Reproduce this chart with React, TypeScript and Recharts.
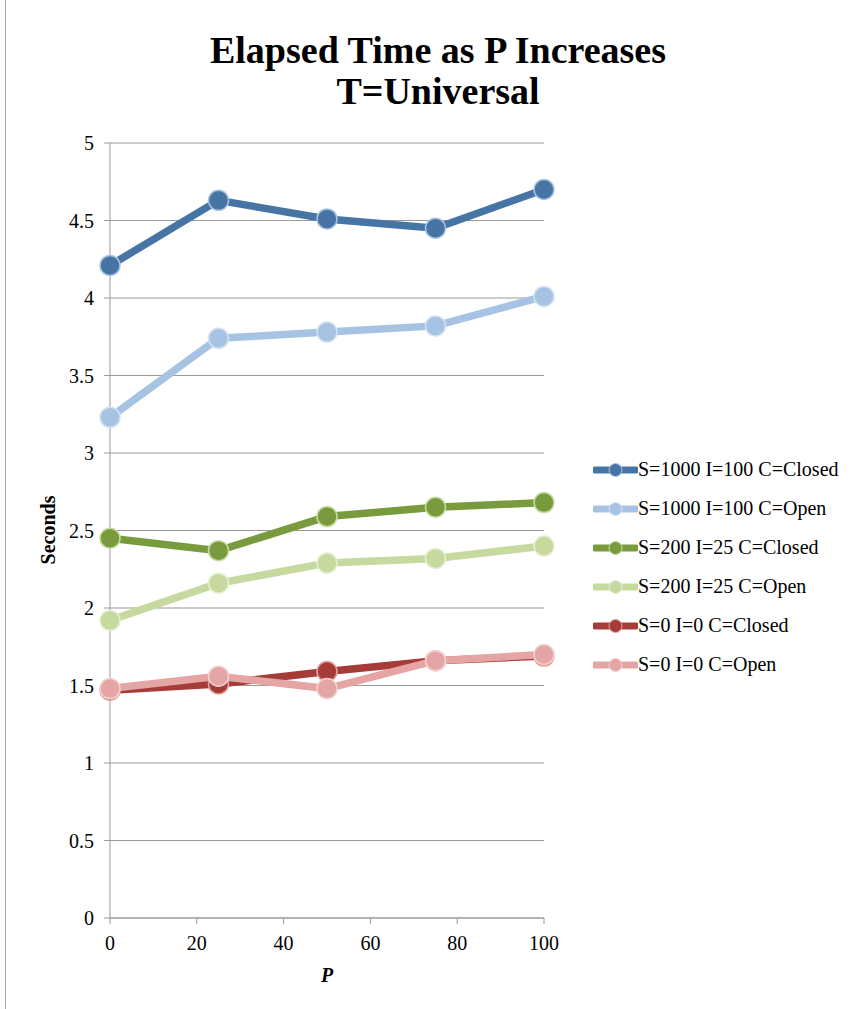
import { LineChart, Line, XAxis, YAxis, CartesianGrid } from 'recharts';

const pValues = [0, 25, 50, 75, 100];
const closed1000 = [4.21, 4.63, 4.51, 4.45, 4.7];
const open1000 = [3.23, 3.74, 3.78, 3.82, 4.01];
const closed200 = [2.45, 2.37, 2.59, 2.65, 2.68];
const open200 = [1.92, 2.16, 2.29, 2.32, 2.4];
const closed0 = [1.47, 1.51, 1.59, 1.66, 1.69];
const open0 = [1.48, 1.56, 1.48, 1.66, 1.7];

const xTicks = [0, 20, 40, 60, 80, 100];
const yTicks = [0, 0.5, 1, 1.5, 2, 2.5, 3, 3.5, 4, 4.5, 5];

const series = [
    { key: 'c1000', name: 'S=1000 I=100 C=Closed', values: closed1000, color: '#4674a5', rim: '#a9c3e0' },
    { key: 'o1000', name: 'S=1000 I=100 C=Open', values: open1000, color: '#a7c3e3', rim: '#d3e2f3' },
    { key: 'c200', name: 'S=200 I=25 C=Closed', values: closed200, color: '#7a9b3d', rim: '#c8dca4' },
    { key: 'o200', name: 'S=200 I=25 C=Open', values: open200, color: '#c6da9f', rim: '#e6f0d2' },
    { key: 'c0', name: 'S=0 I=0 C=Closed', values: closed0, color: '#a63c38', rim: '#e0a4a2' },
    { key: 'o0', name: 'S=0 I=0 C=Open', values: open0, color: '#e4a5a4', rim: '#f4d2d1' },
];

const data = pValues.map((p, i) => {
    const row: any = { p };
    series.forEach(s => { row[s.key] = s.values[i]; });
    return row;
});

const FONT = '"Liberation Serif", "DejaVu Serif", serif';

function LegendBox() {
    return (
        <div style={{ position: 'absolute', left: 593, top: 450, fontFamily: FONT, fontSize: 20, color: '#000' }}>
            {series.map(s => (
                <div key={s.key} style={{ display: 'flex', alignItems: 'center', height: 39 }}>
                    <svg width={45} height={16}>
                        <line x1={2} y1={8} x2={43} y2={8} stroke={s.color} strokeWidth={7} strokeLinecap="round" />
                        <circle cx={22.5} cy={8} r={6.5} fill={s.color} stroke={s.rim} strokeWidth={1} />
                    </svg>
                    <span style={{ whiteSpace: 'nowrap' }}>{s.name}</span>
                </div>
            ))}
        </div>
    );
}

export default function App() {
    return (
        <div style={{ position: 'absolute', left: 0, top: 0, width: 857, height: 1009, background: '#fff', fontFamily: FONT }}>
            <div style={{ position: 'absolute', left: 5, top: 0, width: 1, height: 1009, background: '#aaa' }} />
            <LineChart width={857} height={1009} data={data} margin={{ top: 143, right: 313, bottom: 61, left: 40 }}>
                <CartesianGrid horizontal vertical={false} stroke="#999" />
                <XAxis
                    dataKey="p"
                    type="number"
                    domain={[0, 100]}
                    ticks={xTicks}
                    height={30}
                    stroke="#999"
                    tickSize={6}
                    tick={{ fill: '#000', fontSize: 20, fontFamily: FONT }}
                    tickMargin={12}
                />
                <YAxis
                    type="number"
                    domain={[0, 5]}
                    ticks={yTicks}
                    width={70}
                    stroke="#999"
                    tickSize={6}
                    tick={{ fill: '#000', fontSize: 20, fontFamily: FONT }}
                    tickMargin={10}
                />
                {series.map(s => (
                    <Line
                        key={s.key}
                        dataKey={s.key}
                        name={s.name}
                        stroke={s.color}
                        strokeWidth={7.5}
                        dot={{ r: 10, fill: s.color, stroke: s.rim, strokeWidth: 1.5 }}
                        activeDot={false}
                        isAnimationActive={false}
                    />
                ))}
            </LineChart>
            <div style={{ position: 'absolute', left: 0, top: 30, width: 876, textAlign: 'center', fontSize: 38, fontWeight: 'bold', lineHeight: '41px' }}>
                Elapsed Time as P Increases<br />T=Universal
            </div>
            <div style={{ position: 'absolute', left: 48, top: 530, transform: 'translate(-50%, -50%) rotate(-90deg)', fontSize: 20, fontWeight: 'bold', whiteSpace: 'nowrap' }}>
                Seconds
            </div>
            <div style={{ position: 'absolute', left: 327, top: 975, transform: 'translate(-50%, -50%)', fontSize: 20, fontWeight: 'bold', fontStyle: 'italic' }}>
                P
            </div>
            <LegendBox />
        </div>
    );
}
